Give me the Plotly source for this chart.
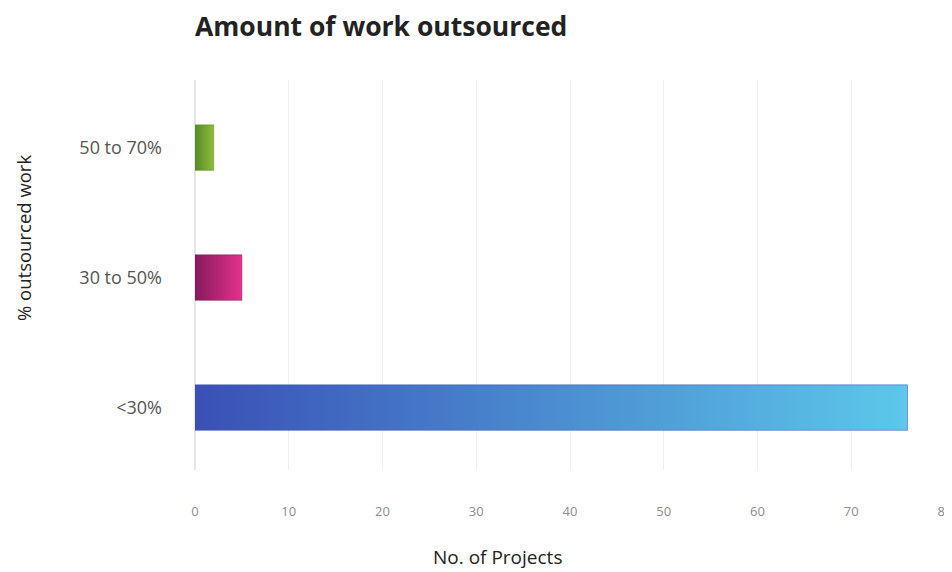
import plotly.graph_objects as go

categories = ["<30%", "30 to 50%", "50 to 70%"]
projects = [76, 5, 2]
grad_left = ["#3a50b6", "#861a5a", "#5a8a26"]
grad_right = ["#5cc8ea", "#e2328c", "#8cbc3c"]
x_ticks = [0, 10, 20, 30, 40, 50, 60, 70, 80]

half = 0.175
fig = go.Figure()
for i, (cat, v) in enumerate(zip(categories, projects)):
    fig.add_trace(go.Scatter(
        x=[0, v, v, 0, 0],
        y=[i - half, i - half, i + half, i + half, i - half],
        mode="lines",
        line=dict(width=0.5, color=grad_left[i]),
        fill="toself",
        fillgradient=dict(type="horizontal",
                          colorscale=[[0, grad_left[i]], [1, grad_right[i]]]),
        name=cat,
        hoverinfo="skip",
        showlegend=False,
    ))

W, H = 952, 572
PW, PH = W - 187 - 15, H - 72 - 110
fig.update_layout(
    width=W, height=H,
    paper_bgcolor="white", plot_bgcolor="white",
    margin=dict(l=187, r=15, t=72, b=110),
    title=dict(text="<b>Amount of work outsourced</b>", x=187 / W, xanchor="left",
               y=1 - 19 / H, yanchor="middle",
               font=dict(family="Open Sans", size=26.5, color="#222222")),
    font=dict(family="Open Sans"),
    annotations=[
        dict(text="% outsourced work", textangle=-90, xref="paper", yref="paper",
             x=(15 - 187) / PW, y=(462 - 230) / PH,
             xanchor="center", yanchor="middle", showarrow=False,
             font=dict(family="Open Sans", size=18.5, color="#222222")),
        dict(text="No. of Projects", xref="paper", yref="paper",
             x=(489 - 187) / PW, y=-(549 - 462) / PH,
             xanchor="center", yanchor="middle", showarrow=False,
             font=dict(family="Open Sans", size=19, color="#222222")),
    ],
)
fig.update_xaxes(
    range=[0, 80], tickvals=x_ticks, ticktext=[str(t) for t in x_ticks],
    showgrid=True, gridcolor="#f0f0f0", gridwidth=1,
    zeroline=True, zerolinecolor="#e6e6e6",
    showline=False, automargin=False,
    tickfont=dict(family="Open Sans", size=13, color="#8c8c8c"),
    ticklabelstandoff=32,
)
fig.update_yaxes(
    range=[-0.48, 2.52], tickvals=list(range(len(categories))), ticktext=categories,
    showgrid=False, zeroline=False, showline=False, automargin=False,
    tickfont=dict(family="Open Sans", size=18, color="#555555"),
    ticklabelstandoff=32,
)
fig.write_html("out.html")
